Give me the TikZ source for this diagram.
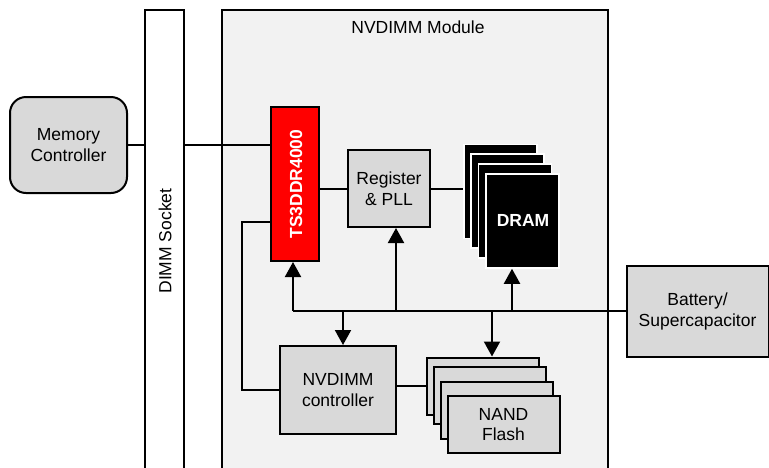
\documentclass[tikz,border=0pt]{standalone}
\usepackage{fontspec}
\setmainfont{Liberation Sans}
\usetikzlibrary{arrows.meta}
\definecolor{modfill}{HTML}{F2F2F2}
\definecolor{boxfill}{HTML}{D9D9D9}
\definecolor{tsred}{HTML}{FF0000}
\begin{document}
\begin{tikzpicture}[x=1pt,y=-1pt,
  lw/.style={line width=2pt},
  txt/.style={font=\fontsize{17.5}{20.5}\selectfont, align=center},
  graybox/.style={lw, draw=black, fill=boxfill, inner sep=0pt, txt},
  dramlayer/.style={fill=black, draw=white, line width=1.5pt, minimum width=73pt, minimum height=94pt, inner sep=0pt},
  nandlayer/.style={graybox, minimum width=112pt, minimum height=57pt},
  conn/.style={lw, draw=black},
  arr/.style={conn, -{Triangle[width=16pt,length=15pt]}}]
\useasboundingbox (0,0) rectangle (769,467);
\clip (0,0) rectangle (769,467);
% module and socket
\node[lw, draw=black, fill=modfill, minimum width=386pt, minimum height=470pt, inner sep=0pt] (mod) at (415,245) {};
\node[txt] (modlbl) at (418,27) {NVDIMM Module};
\node[lw, draw=black, fill=white, minimum width=39pt, minimum height=470pt, inner sep=0pt] (sock) at (164.5,245) {};
\node[txt, rotate=90] (socklbl) at (165,241) {DIMM Socket};
% memory controller
\node[graybox, rounded corners=16pt, minimum width=117pt, minimum height=96pt] (mc) at (68.5,145) {Memory\\Controller};
% TS3DDR4000
\node[lw, draw=black, fill=tsred, minimum width=48pt, minimum height=154pt, inner sep=0pt] (ts3) at (295,184) {};
\node[txt, rotate=90, text=white, font=\fontsize{17.5}{20.5}\selectfont\bfseries] (ts3lbl) at (296,184) {TS3DDR4000};
% register
\node[graybox, minimum width=82pt, minimum height=77pt] (reg) at (389,188.5) {Register\\\& PLL};
% DRAM stack
\node[dramlayer] (dram1) at (500.5,191.5) {};
\node[dramlayer] (dram2) at (507.5,201) {};
\node[dramlayer] (dram3) at (515,211) {};
\node[dramlayer] (dram4) at (522.5,221) {};
\node[txt, text=white, font=\fontsize{17.5}{20.5}\selectfont\bfseries] (dramlbl) at (523,220) {DRAM};
% battery
\node[graybox, minimum width=142pt, minimum height=91pt] (bat) at (697.5,311.5) {Battery/\\Supercapacitor};
% NVDIMM controller
\node[graybox, minimum width=116pt, minimum height=88pt] (ctrl) at (338,390) {NVDIMM\\controller};
% NAND stack
\node[nandlayer] (nand1) at (483,386) {};
\node[nandlayer] (nand2) at (489.5,395.5) {};
\node[nandlayer] (nand3) at (497,410.5) {};
\node[nandlayer] (nand4) at (503.5,424.5) {NAND\\Flash};
% coordinates
\coordinate (busL) at (293,311);
\coordinate (busReg) at (396,311);
\coordinate (busDram) at (512,311);
\coordinate (busCtrl) at (343,311);
\coordinate (busNand) at (492,311);
\coordinate (loop) at (242,222);
\coordinate (cn) at (0,386);
% connectors
\draw[conn] (mc.east) -- (mc.east -| sock.west);
\draw[conn] (mc.east -| sock.east) -- (mc.east -| ts3.west);
\draw[conn] (ts3.east |- reg.west) -- (reg.west);
\draw[conn] (reg.east) -- (reg.east -| dram1.west);
\draw[conn] (busL) -- (busL -| bat.west);
\draw[arr] (busL) -- (busL |- ts3.south);
\draw[arr] (busReg) -- (busReg |- reg.south);
\draw[arr] (busDram) -- (busDram |- dram4.south);
\draw[arr] (busCtrl) -- (busCtrl |- ctrl.north);
\draw[arr] (busNand) -- (busNand |- nand1.north);
\draw[conn] (ctrl.west) -| (loop) -- (loop -| ts3.west);
\draw[conn] (ctrl.east |- cn) -- (nand1.west |- cn);
\end{tikzpicture}
\end{document}
